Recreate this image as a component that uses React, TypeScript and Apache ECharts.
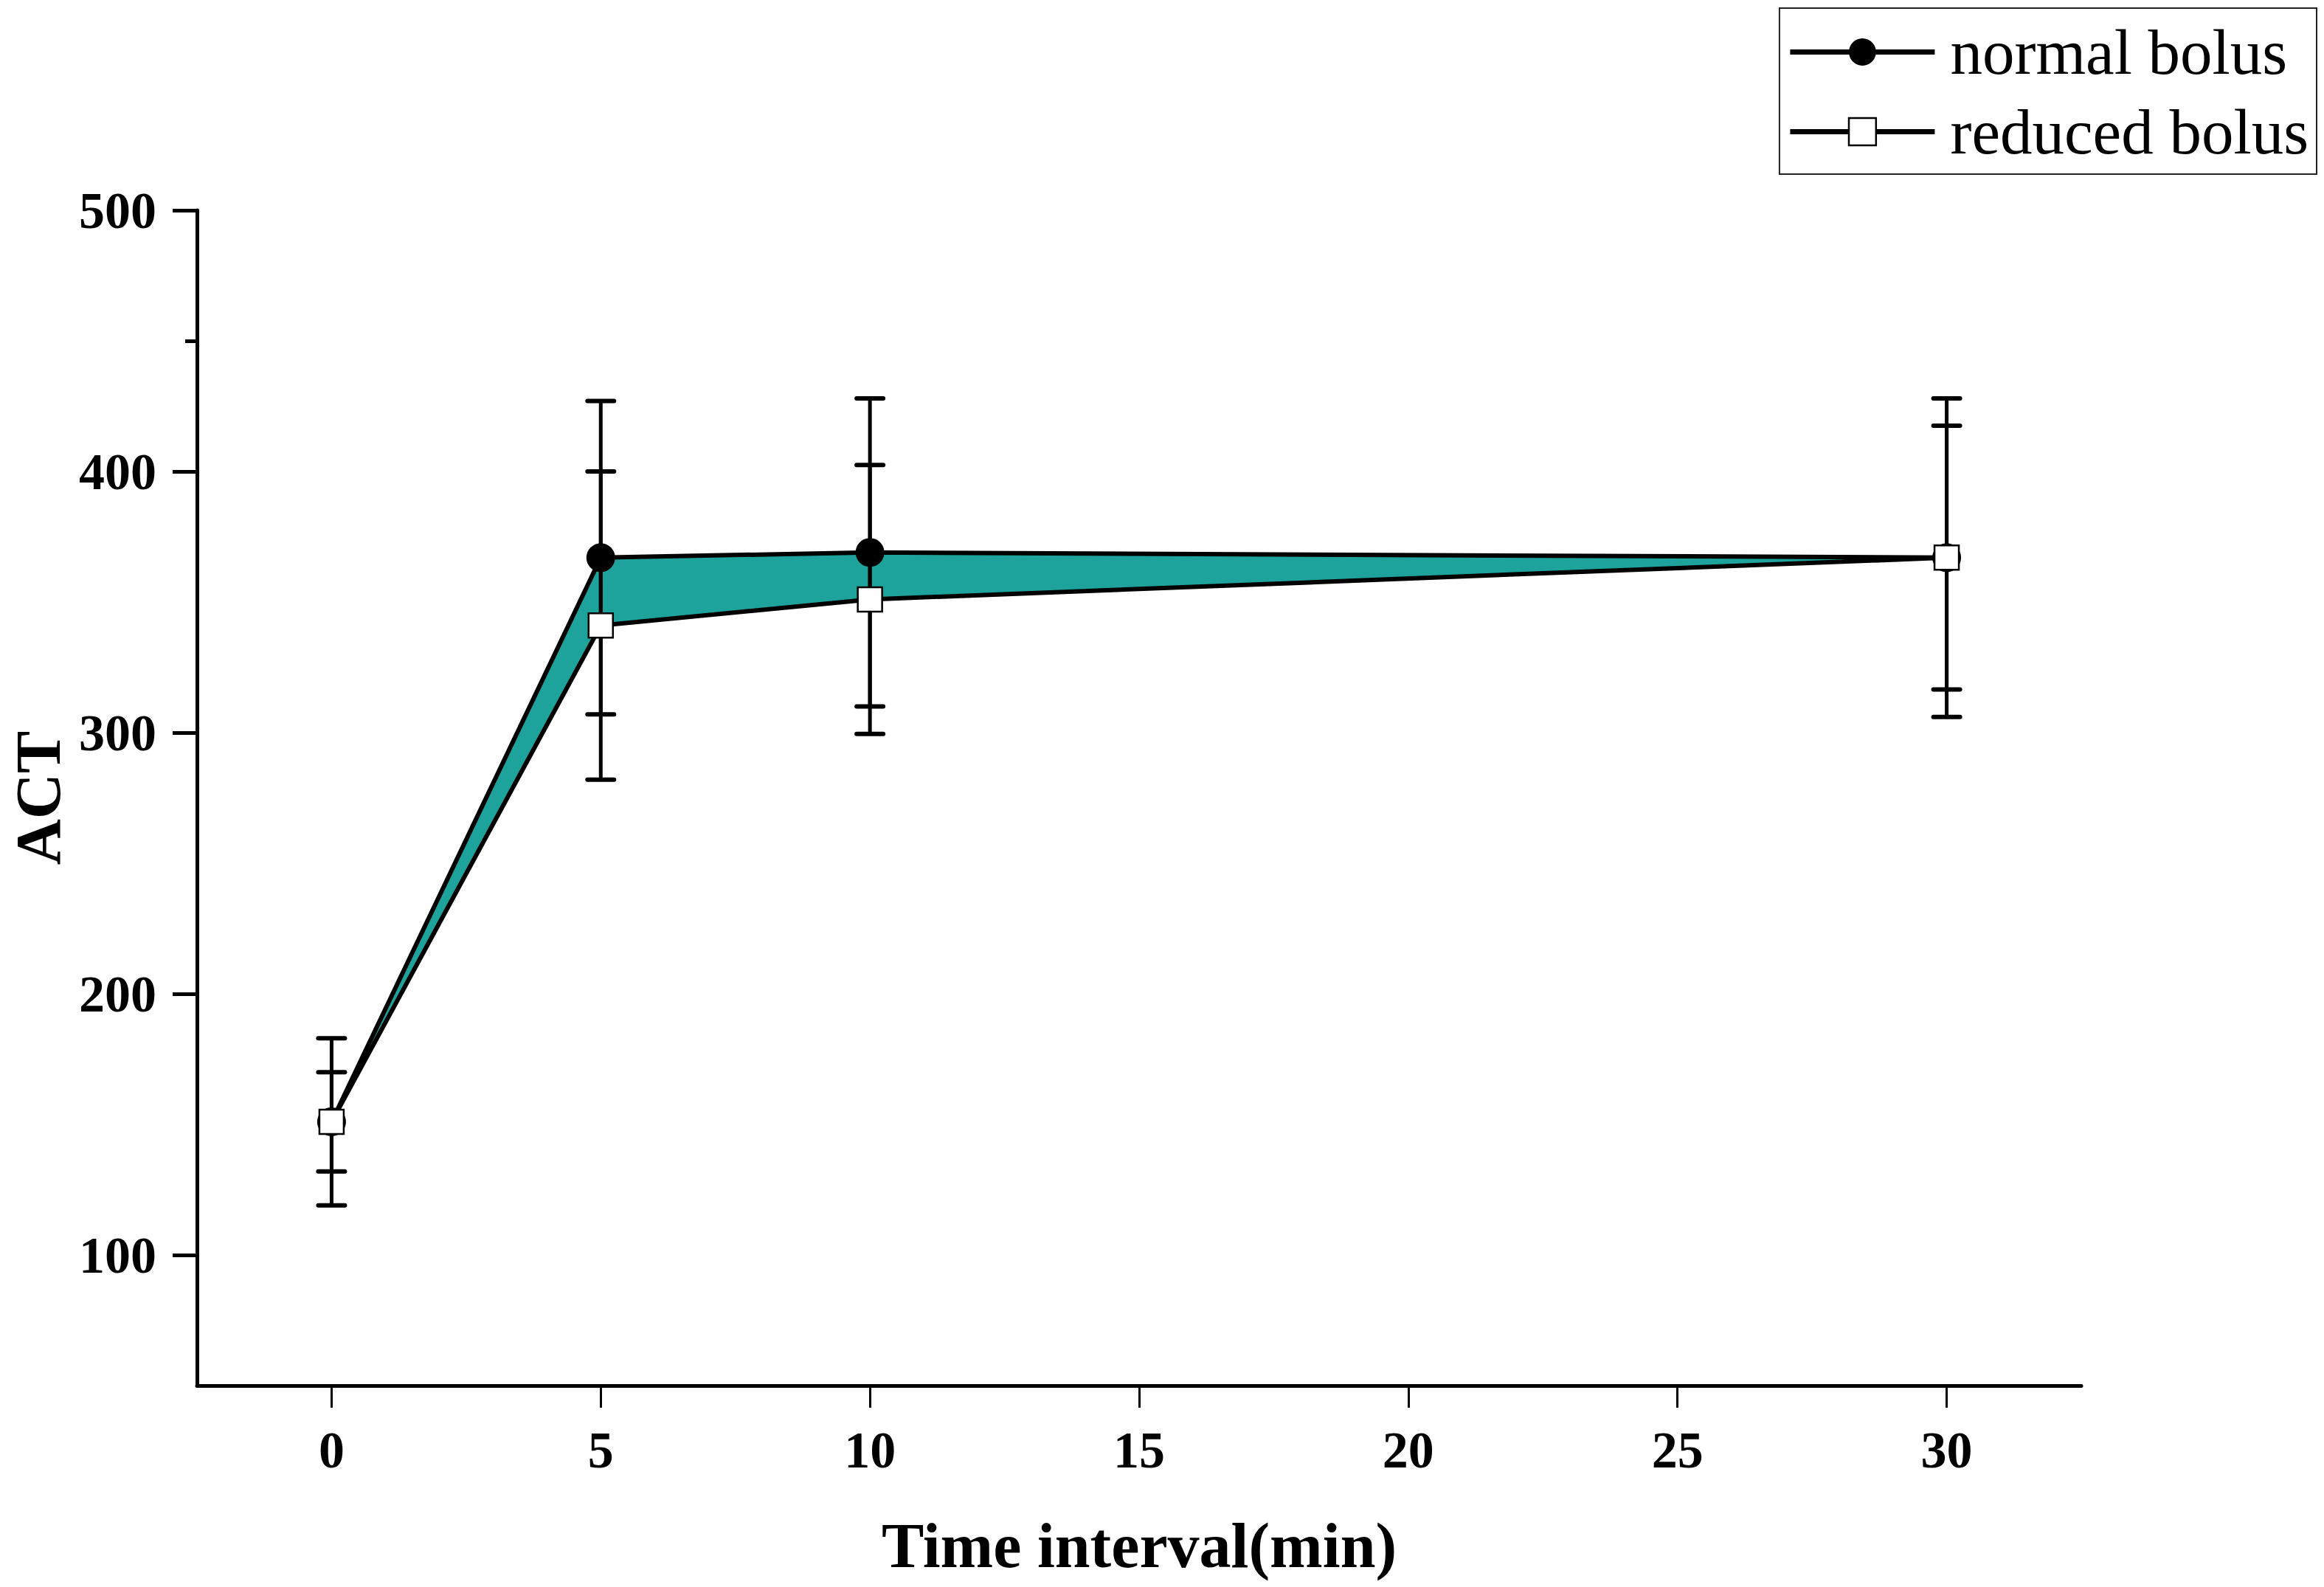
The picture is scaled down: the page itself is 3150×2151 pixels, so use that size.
import React, { useEffect, useRef } from "react";
import * as echarts from "echarts";

const times = [0, 5, 10, 30];
const normalBolus = [151, 367, 369, 367];
const normalSD = [32, 60, 59, 61];
const reducedBolus = [151, 341, 351, 367];
const reducedSD = [19, 59, 51.5, 50.5];
const xTicks = [0, 5, 10, 15, 20, 25, 30];
const yTicks = [100, 200, 300, 400, 500];
const yMinorTicks = [450];
const seriesNames = ["normal bolus", "reduced bolus"];
const xName = "Time interval(min)";
const yName = "ACT";

const SERIF = "'Liberation Serif', 'Times New Roman', serif";

export default function App() {
  const ref = useRef<HTMLDivElement>(null);

  useEffect(() => {
    document.body.style.margin = "0";
    if (!ref.current) return;
    const chart = echarts.init(ref.current, undefined, { renderer: "svg" });

    const bandData = [];
    for (let i = 0; i < times.length - 1; i++) {
      bandData.push([
        times[i], normalBolus[i], reducedBolus[i],
        times[i + 1], normalBolus[i + 1], reducedBolus[i + 1],
      ]);
    }
    const errData = [];
    for (let i = 0; i < times.length; i++) {
      errData.push([times[i], normalBolus[i] - normalSD[i], normalBolus[i] + normalSD[i]]);
      errData.push([times[i], reducedBolus[i] - reducedSD[i], reducedBolus[i] + reducedSD[i]]);
    }

    const option: any = {
      animation: false,
      backgroundColor: "#fff",
      grid: {
        left: 267, right: 329, top: 285, bottom: 273,
        containLabel: false, outerBoundsMode: "none",
      },
      legend: {
        orient: "vertical",
        right: 10,
        top: 11,
        align: "left",
        itemWidth: 196,
        itemHeight: 46,
        itemGap: 21,
        padding: [16, 11, 14, 11],
        borderColor: "#222",
        borderWidth: 2,
        selectedMode: false,
        textStyle: {
          fontSize: 87, fontFamily: SERIF, color: "#000",
          padding: [0, 0, 0, 16],
        },
        data: [
          {
            name: seriesNames[0],
            itemStyle: { color: "#000", borderWidth: 0 },
            lineStyle: { color: "#000", width: 7 },
          },
          {
            name: seriesNames[1],
            itemStyle: { color: "#fff", borderColor: "#000", borderWidth: 2.5 },
            lineStyle: { color: "#000", width: 7 },
          },
        ],
      },
      xAxis: {
        type: "value",
        min: -2.5,
        max: 32.5,
        name: xName,
        nameLocation: "middle",
        nameGap: 174,
        nameTextStyle: { fontSize: 86, fontWeight: "bold", fontFamily: SERIF, color: "#000" },
        splitLine: { show: false },
        axisLine: { show: true, onZero: false, lineStyle: { color: "#000", width: 5 } },
        axisTick: { show: true, inside: false, length: 30, customValues: xTicks, lineStyle: { color: "#000", width: 3 } },
        axisLabel: {
          customValues: xTicks, margin: 52,
          fontSize: 70, fontWeight: "bold", fontFamily: SERIF, color: "#000",
        },
      },
      yAxis: [
        {
          type: "value",
          min: 50,
          max: 500,
          name: yName,
          nameLocation: "middle",
          nameGap: 172,
          nameRotate: 90,
          nameTextStyle: { fontSize: 86, fontWeight: "bold", fontFamily: SERIF, color: "#000" },
          splitLine: { show: false },
          axisLine: { show: true, onZero: false, lineStyle: { color: "#000", width: 5 } },
          axisTick: { show: true, inside: false, length: 33, customValues: yTicks, lineStyle: { color: "#000", width: 5 } },
          axisLabel: {
            customValues: yTicks, margin: 55,
            fontSize: 70, fontWeight: "bold", fontFamily: SERIF, color: "#000",
          },
        },
        {
          type: "value",
          min: 50,
          max: 500,
          position: "left",
          offset: 0,
          splitLine: { show: false },
          axisLine: { show: false, onZero: false },
          axisTick: { show: true, inside: false, length: 16, customValues: yMinorTicks, lineStyle: { color: "#000", width: 5 } },
          axisLabel: { show: false },
        },
      ],
      series: [
        {
          type: "custom",
          name: "band",
          z: 1,
          silent: true,
          encode: { x: [0, 3], y: [1, 2, 4, 5] },
          data: bandData,
          renderItem: (params: any, api: any) => {
            const t0 = api.value(0), n0 = api.value(1), r0 = api.value(2);
            const t1 = api.value(3), n1 = api.value(4), r1 = api.value(5);
            const pts = [api.coord([t0, n0]), api.coord([t1, n1]), api.coord([t1, r1]), api.coord([t0, r0])];
            return {
              type: "polygon",
              shape: { points: pts },
              style: { fill: "#1ea39c", stroke: "#1ea39c", lineWidth: 1 },
            };
          },
        },
        {
          type: "custom",
          name: "errorbars",
          z: 2,
          silent: true,
          encode: { x: 0, y: [1, 2] },
          data: errData,
          renderItem: (params: any, api: any) => {
            const x = api.value(0);
            const lo = api.coord([x, api.value(1)]);
            const hi = api.coord([x, api.value(2)]);
            const hw = 18;
            const st = { stroke: "#000", lineWidth: 5, lineCap: "round" };
            return {
              type: "group",
              children: [
                { type: "line", shape: { x1: lo[0], y1: lo[1], x2: hi[0], y2: hi[1] }, style: st },
                { type: "line", shape: { x1: lo[0] - hw, y1: lo[1], x2: lo[0] + hw, y2: lo[1] }, style: { ...st, lineWidth: 6 } },
                { type: "line", shape: { x1: hi[0] - hw, y1: hi[1], x2: hi[0] + hw, y2: hi[1] }, style: { ...st, lineWidth: 6 } },
              ],
            };
          },
        },
        {
          type: "line",
          name: seriesNames[0],
          z: 3,
          data: times.map((t, i) => [t, normalBolus[i]]),
          symbol: "circle",
          symbolSize: 39,
          showAllSymbol: true,
          itemStyle: { color: "#000" },
          lineStyle: { color: "#000", width: 6 },
        },
        {
          type: "line",
          name: seriesNames[1],
          z: 4,
          data: times.map((t, i) => [t, reducedBolus[i]]),
          symbol: "rect",
          symbolSize: 33,
          showAllSymbol: true,
          itemStyle: { color: "#fff", borderColor: "#000", borderWidth: 2.5 },
          lineStyle: { color: "#000", width: 6 },
        },
      ],
    };

    chart.setOption(option);
    return () => chart.dispose();
  }, []);

  return <div ref={ref} style={{ width: 3150, height: 2151 }} />;
}
